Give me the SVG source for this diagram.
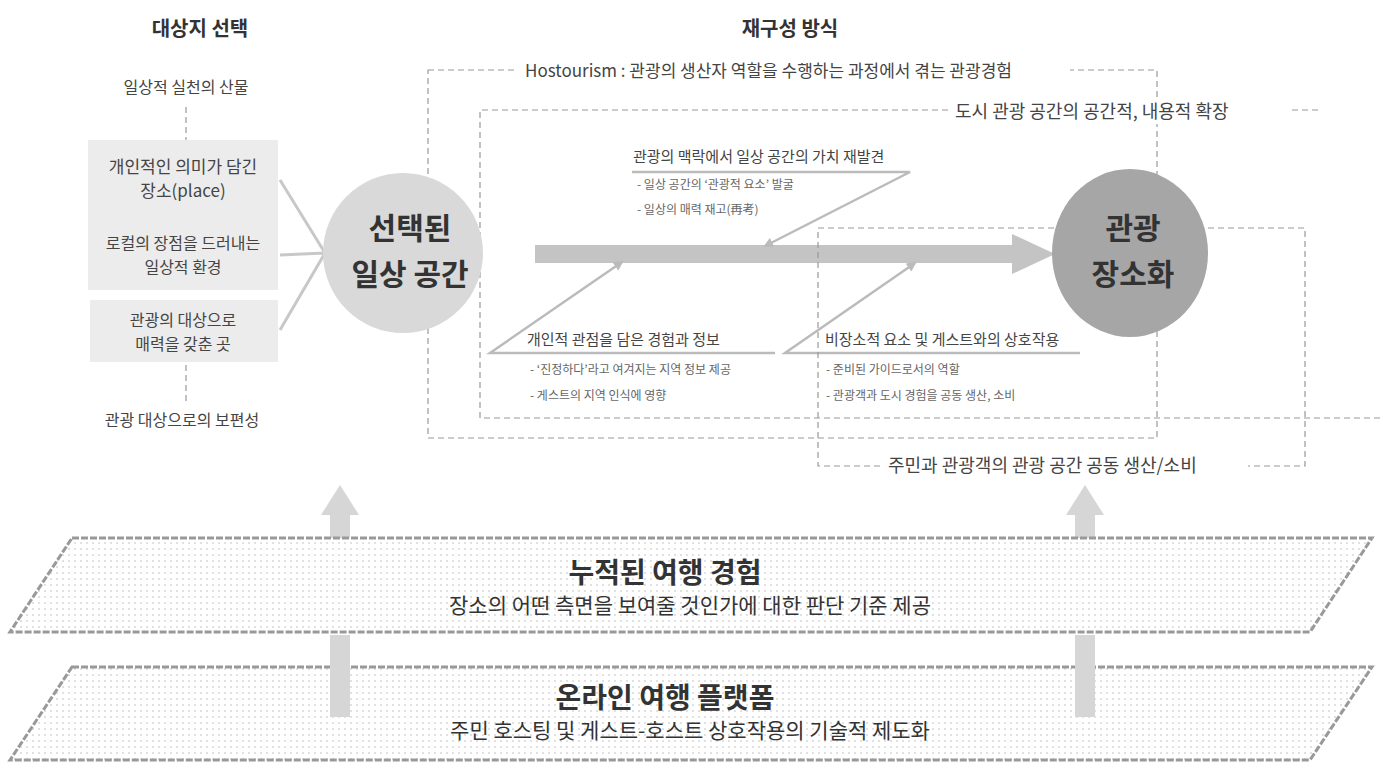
<svg xmlns="http://www.w3.org/2000/svg" width="1383" height="770" viewBox="0 0 1383 770">
<style>
text{font-family:"Noto Sans CJK KR","Noto Sans",sans-serif;fill:#333}
.t{font-size:20px;font-weight:bold;text-anchor:middle}
.l{font-size:16px;fill:#444}
.s{font-size:12px;fill:#666}
.box{fill:#ececec}
.dash{fill:none;stroke:#999;stroke-width:1.2;stroke-dasharray:6 4}
.gl{stroke:#c8c8c8;stroke-width:3;fill:none}
.br{stroke:#bbb;stroke-width:2.5;fill:none}
.bg{fill:#fff}
.para{fill:url(#dots);stroke:#999;stroke-width:3;stroke-dasharray:7 2}
</style>
<defs>
<pattern id="dots" width="6" height="6" patternUnits="userSpaceOnUse"><rect width="6" height="6" fill="#fff"/><circle cx="3" cy="3" r="0.8" fill="#bbb"/></pattern>
<marker id="ah" markerWidth="10" markerHeight="10" refX="8" refY="5" orient="auto" markerUnits="userSpaceOnUse"><path d="M0,0 L10,5 L0,10 Z" fill="#bbb"/></marker>
</defs>
<text class="t" x="200" y="36">대상지 선택</text>
<text class="t" x="790" y="36">재구성 방식</text>

<g id="connectors">
<line x1="186" y1="107" x2="186" y2="140" class="dash" stroke="#666"/>
<line x1="186" y1="365" x2="186" y2="402" class="dash" stroke="#666"/>
<path class="gl" d="M280,180 L325,253 M280,255 L325,253 M280,330 L325,253"/>
<path d="M535,245 L1012,245 L1012,234 L1055,254 L1012,274 L1012,263 L535,263 Z" fill="#c4c4c4"/>
<path class="br" d="M632,172 L910,172 L765,246" marker-end="url(#ah)"/>
<path class="br" d="M775,353 L490,353 L622,262" marker-end="url(#ah)"/>
<path class="br" d="M1080,353 L785,353 L915,263" marker-end="url(#ah)"/>
<path d="M330,578 L330,515 L321,515 L340,485 L359,515 L350,515 L350,578 Z" fill="#d6d6d6"/>
<path d="M1075,578 L1075,515 L1066,515 L1085,485 L1104,515 L1095,515 L1095,578 Z" fill="#d6d6d6"/>
</g>

<g id="frame-hostourism"><rect class="dash" x="428" y="70" width="729" height="368"/><rect class="bg" x="515" y="58" width="555" height="26"/><text class="l" x="525" y="77" style="font-size:17px">Hostourism : 관광의 생산자 역할을 수행하는 과정에서 겪는 관광경험</text></g>
<g id="frame-urban"><path class="dash" d="M1318,110 L480,110 L480,418 L1383,418"/><rect class="bg" x="948" y="98" width="340" height="26"/><text class="l" x="955" y="118" style="font-size:18px">도시 관광 공간의 공간적, 내용적 확장</text></g>
<g id="frame-coprod"><rect class="dash" x="818" y="228" width="487" height="238"/><rect class="bg" x="880" y="454" width="368" height="26"/><text class="l" x="888" y="472" style="font-size:18px">주민과 관광객의 관광 공간 공동 생산/소비</text></g>

<g id="left-top"><text class="l" x="186" y="93" text-anchor="middle">일상적 실천의 산물</text></g>
<g id="left-boxes">
<rect class="box" x="88" y="140" width="190" height="150"/>
<rect class="box" x="90" y="300" width="188" height="62"/>
<text class="l" x="183" y="173" text-anchor="middle" style="font-size:17px">개인적인  의미가 담긴</text>
<text class="l" x="183" y="197" text-anchor="middle" style="font-size:17px">장소(place)</text>
<text class="l" x="183" y="249" text-anchor="middle">로컬의 장점을 드러내는</text>
<text class="l" x="183" y="273" text-anchor="middle">일상적 환경</text>
<text class="l" x="183" y="326" text-anchor="middle">관광의 대상으로</text>
<text class="l" x="183" y="350" text-anchor="middle">매력을 갖춘 곳</text>
</g>
<g id="left-bottom"><text class="l" x="182" y="426" text-anchor="middle">관광 대상으로의 보편성</text></g>

<g id="node-selected"><circle cx="403" cy="253" r="80" fill="#d9d9d9"/><text class="t" x="410" y="239" style="font-size:30px">선택된</text><text class="t" x="410" y="285" style="font-size:30px">일상 공간</text></g>
<g id="node-place"><ellipse cx="1130" cy="253" rx="78" ry="84" fill="#a6a6a6"/><text class="t" x="1133" y="239" style="font-size:30px">관광</text><text class="t" x="1133" y="285" style="font-size:30px">장소화</text></g>

<g id="branch-top"><text class="l" x="633" y="162" style="font-size:15px">관광의 맥락에서 일상 공간의 가치 재발견</text><text class="s" x="637" y="189">- 일상 공간의 ‘관광적 요소’ 발굴</text><text class="s" x="637" y="214">- 일상의 매력 재고(再考)</text></g>
<g id="branch-left"><text class="l" x="527" y="345" style="font-size:15px">개인적 관점을 담은 경험과 정보</text><text class="s" x="530" y="374">- ‘진정하다’라고 여겨지는 지역 정보 제공</text><text class="s" x="530" y="400">- 게스트의 지역 인식에 영향</text></g>
<g id="branch-right"><text class="l" x="825" y="345" style="font-size:15px">비장소적 요소 및 게스트와의 상호작용</text><text class="s" x="826" y="374">-   준비된 가이드로서의 역할</text><text class="s" x="826" y="400">-   관광객과 도시 경험을 공동 생산, 소비</text></g>

<g id="layer-experience"><path class="para" d="M72,538 L1372,538 L1310,632 L10,632 Z"/><text class="t" x="665" y="583" style="font-size:28px">누적된 여행 경험</text><text x="690" y="613" text-anchor="middle" style="font-size:21px">장소의 어떤 측면을 보여줄 것인가에 대한 판단 기준 제공</text></g>
<g id="layer-platform"><path class="para" d="M72,667 L1372,667 L1310,760 L10,760 Z"/><text class="t" x="665" y="708" style="font-size:28px">온라인 여행 플랫폼</text><text x="690" y="738" text-anchor="middle" style="font-size:21px">주민 호스팅 및 게스트-호스트 상호작용의 기술적 제도화</text></g>
<g id="arrows-lower"><rect x="330" y="635" width="20" height="82" fill="#d6d6d6"/><rect x="1075" y="635" width="20" height="82" fill="#d6d6d6"/></g>
</svg>
